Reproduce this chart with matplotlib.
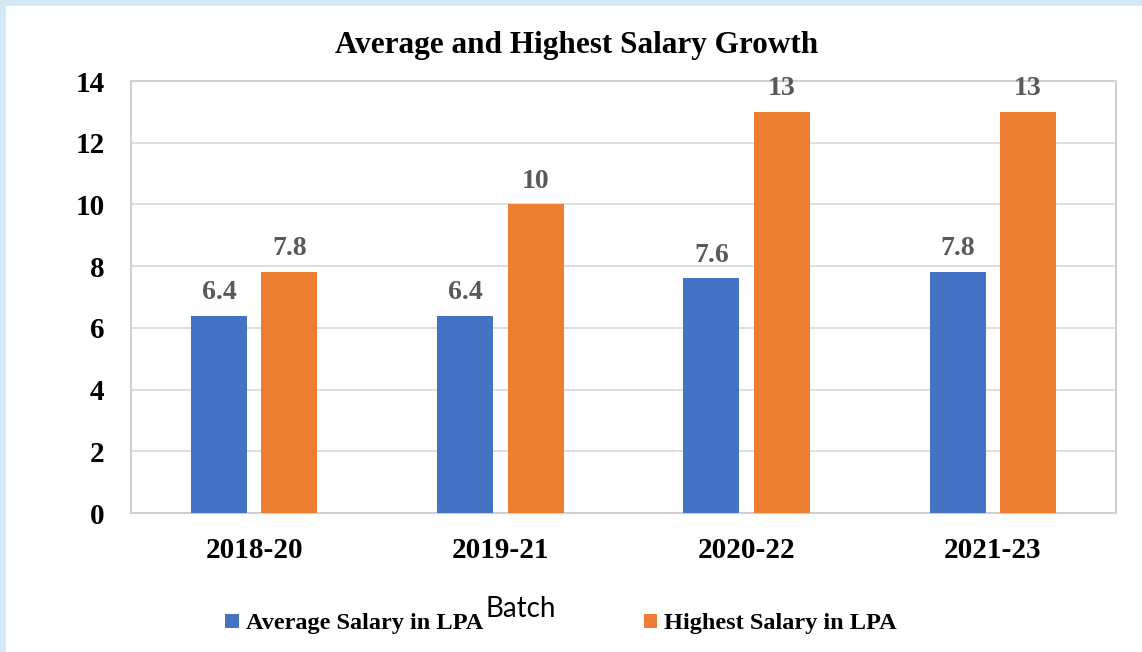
import matplotlib
matplotlib.use("Agg")
import matplotlib.pyplot as plt
from matplotlib.patches import Rectangle
import numpy as np

categories = ["2018-20", "2019-21", "2020-22", "2021-23"]
average_salary = [6.4, 6.4, 7.6, 7.8]
highest_salary = [7.8, 10, 13, 13]
avg_labels = ["6.4", "6.4", "7.6", "7.8"]
high_labels = ["7.8", "10", "13", "13"]
yticks = [0, 2, 4, 6, 8, 10, 12, 14]

BLUE = "#4472C4"
ORANGE = "#ED7D31"
serif = ["Liberation Serif", "DejaVu Serif"]

W, H = 1142, 652
fig = plt.figure(figsize=(W / 100, H / 100), dpi=100)
fig.patch.set_facecolor("white")

# light blue border strips
fig.add_artist(Rectangle((0, 1 - 6 / H), 1, 6 / H, transform=fig.transFigure,
                         facecolor="#d3e8f5", edgecolor="none", zorder=0))
fig.add_artist(Rectangle((0, 0), 6 / W, 1, transform=fig.transFigure,
                         facecolor="#d3e8f5", edgecolor="none", zorder=0))

ax = fig.add_axes([131 / W, 1 - 513 / H, (1116 - 131) / W, (513 - 81) / H])
x = np.arange(len(categories))
bw = 0.228
off = 0.143
b1 = ax.bar(x - off, average_salary, bw, color=BLUE, label="Average Salary in LPA", zorder=3)
b2 = ax.bar(x + off, highest_salary, bw, color=ORANGE, label="Highest Salary in LPA", zorder=3)

for xs, vals, labs in ((x - off, average_salary, avg_labels), (x + off, highest_salary, high_labels)):
    for xi, v, t in zip(xs, vals, labs):
        ax.annotate(t, (xi, v), xytext=(0, 16.8), textcoords="offset points", ha="center", va="center",
                    fontsize=20, fontweight="bold", color="#595959", family=serif)

ax.set_xlim(-0.5, 3.5)
ax.set_ylim(0, 14)
ax.set_yticks(yticks)
ax.set_yticklabels([str(t) for t in yticks], fontsize=21, fontweight="bold", family=serif)
ax.set_xticks(x)
ax.set_xticklabels(categories, fontsize=21, fontweight="bold", family=serif)
ax.tick_params(axis="both", length=0)
ax.tick_params(axis="y", pad=19)
ax.tick_params(axis="x", pad=17)
ax.grid(axis="y", color="#d9d9d9", linewidth=1.2, zorder=0)
for s in ax.spines.values():
    s.set_color("#d0d0d0")
    s.set_linewidth(1.5)

fig.text(577 / W, 1 - 46 / H, "Average and Highest Salary Growth", ha="center", va="center",
         fontsize=22.5, fontweight="bold", family=serif)
fig.text(521 / W, 1 - 609 / H, "Batch", ha="center", va="center", fontsize=20,
         family=["Lato", "DejaVu Sans"])

leg = fig.legend(handles=[b1, b2], loc="center", bbox_to_anchor=(561 / W, 1 - 624 / H),
                 ncol=2, frameon=False, prop={"family": serif, "weight": "bold", "size": 17.5},
                 handlelength=0.55, handleheight=0.55, handletextpad=0.3, columnspacing=6.6)

fig.savefig("out.png", dpi=100, facecolor="white")
